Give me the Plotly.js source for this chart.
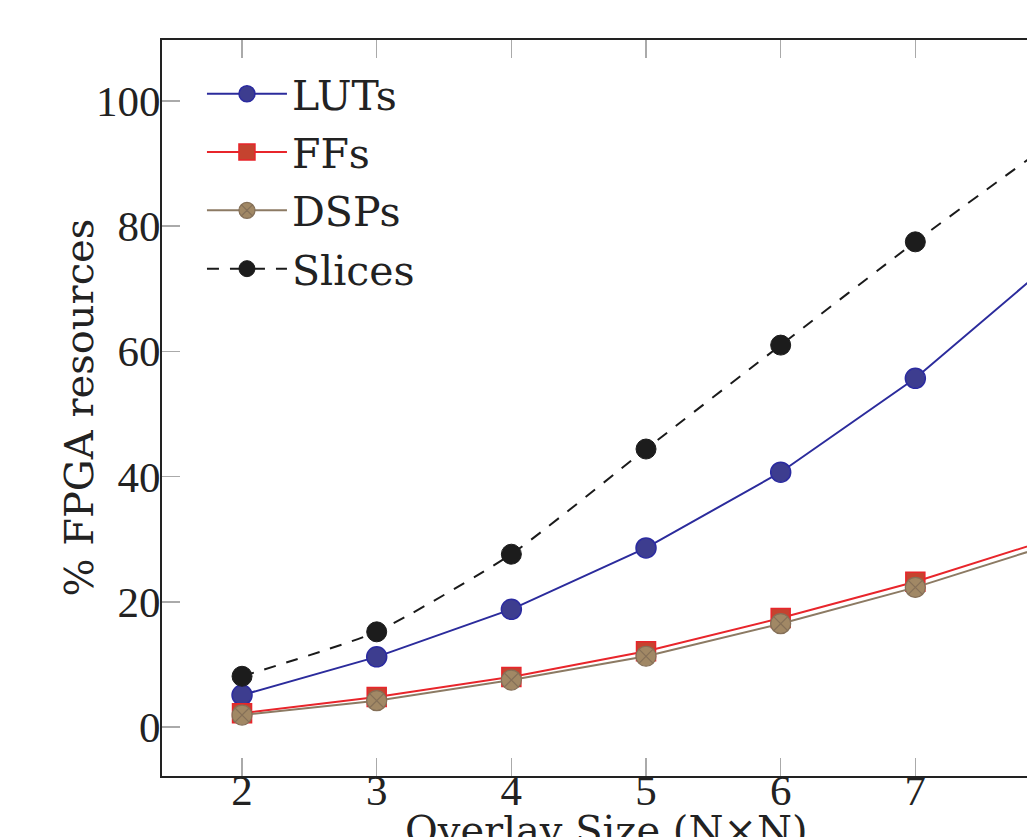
<!DOCTYPE html>
<html>
<head>
<meta charset="utf-8">
<script src="https://cdn.plot.ly/plotly-3.0.1.min.js"></script>
<style>
html, body { margin: 0; padding: 0; overflow: hidden; background: #fff; }
#chart { width: 1070px; height: 837px; }
</style>
</head>
<body>
<div id="chart"></div>
<script>
const overlaySize = [2, 3, 4, 5, 6, 7, 8];
const luts   = [5.1, 11.2, 18.8, 28.6, 40.7, 55.7, 74.0];
const ffs    = [2.2, 4.8, 8.0, 12.1, 17.4, 23.2, 30.0];
const dsps   = [1.9, 4.2, 7.5, 11.3, 16.5, 22.3, 29.1];
const slices = [8.1, 15.2, 27.6, 44.4, 61.0, 77.5, 93.2];
const yTicks = [0, 20, 40, 60, 80, 100];
const xTicks = [2, 3, 4, 5, 6, 7];

const NUMFONT = "'Liberation Serif', serif";
const TXTFONT = "'DejaVu Serif', 'Liberation Serif', serif";

const traces = [
  {
    x: overlaySize, y: luts, name: 'LUTs', legendgroup: 'a', mode: 'lines+markers', type: 'scatter',
    line: { color: '#2b2b9c', width: 2 },
    marker: { symbol: 'circle', size: 20, color: '#3d3d8f', line: { color: '#2b2ba0', width: 1.5 } }
  },
  {
    x: overlaySize, y: ffs, name: 'FFs', legendgroup: 'b', mode: 'lines+markers', type: 'scatter',
    line: { color: '#e8252b', width: 2 },
    marker: { symbol: 'square', size: 19, color: '#c5432f', line: { color: '#e8252b', width: 1.5 } }
  },
  {
    x: overlaySize, y: dsps, name: 'DSPs', legendgroup: 'c', mode: 'lines+markers', type: 'scatter',
    line: { color: '#8c7a63', width: 2 },
    marker: { symbol: 'circle-x', size: 20, color: '#a18865', line: { color: '#857058', width: 1.2 } }
  },
  {
    x: overlaySize, y: slices, name: 'Slices', legendgroup: 'd', mode: 'lines+markers', type: 'scatter',
    line: { color: '#1a1a1a', width: 2, dash: '12px,11px', shape: 'spline', smoothing: 0.5 },
    marker: { symbol: 'circle', size: 20, color: '#1c1c1c', line: { color: '#1c1c1c', width: 1 } }
  }
];

const layout = {
  width: 1070, height: 837,
  margin: { l: 162, r: 20, t: 40, b: 61 },
  paper_bgcolor: '#fff', plot_bgcolor: '#fff',
  font: { family: TXTFONT, size: 40, color: '#222' },
  showlegend: true,
  legend: {
    x: 0.045, y: 0.972, xanchor: 'left', yanchor: 'top',
    bgcolor: 'rgba(255,255,255,0)', borderwidth: 0,
    font: { family: TXTFONT, size: 41, color: '#222' },
    itemwidth: 80,
    tracegroupgap: 2
  },
  xaxis: {
    range: [1.4056, 8.0],
    tickvals: xTicks, ticktext: xTicks.map(String),
    ticks: 'inside', ticklen: 18, tickwidth: 1.5, tickcolor: '#aaa',
    showline: true, linecolor: '#222', linewidth: 2, mirror: 'ticks',
    showgrid: false, zeroline: false,
    ticklabelstandoff: -25,
    tickfont: { family: NUMFONT, size: 43, color: '#222' }
  },
  yaxis: {
    range: [-7.83, 109.74],
    tickvals: yTicks, ticktext: yTicks.map(String),
    ticks: 'inside', ticklen: 18, tickwidth: 1.5, tickcolor: '#aaa',
    showline: true, linecolor: '#222', linewidth: 2, mirror: 'ticks',
    showgrid: false, zeroline: false,
    ticklabelstandoff: -9,
    tickfont: { family: NUMFONT, size: 43, color: '#222' }
  },
  annotations: [
    {
      text: 'Overlay Size (N×N)', xref: 'paper', yref: 'paper',
      x: 0.5, y: -0.04, xanchor: 'center', yanchor: 'top', showarrow: false,
      font: { family: TXTFONT, size: 40, color: '#222' }
    },
    {
      text: '% FPGA resources', xref: 'paper', yref: 'paper',
      x: -0.094, y: 0.5, xanchor: 'center', yanchor: 'middle', showarrow: false,
      textangle: -90,
      font: { family: TXTFONT, size: 40, color: '#222' }
    }
  ]
};

Plotly.newPlot('chart', traces, layout, { displayModeBar: false, staticPlot: true });
</script>
</body>
</html>
